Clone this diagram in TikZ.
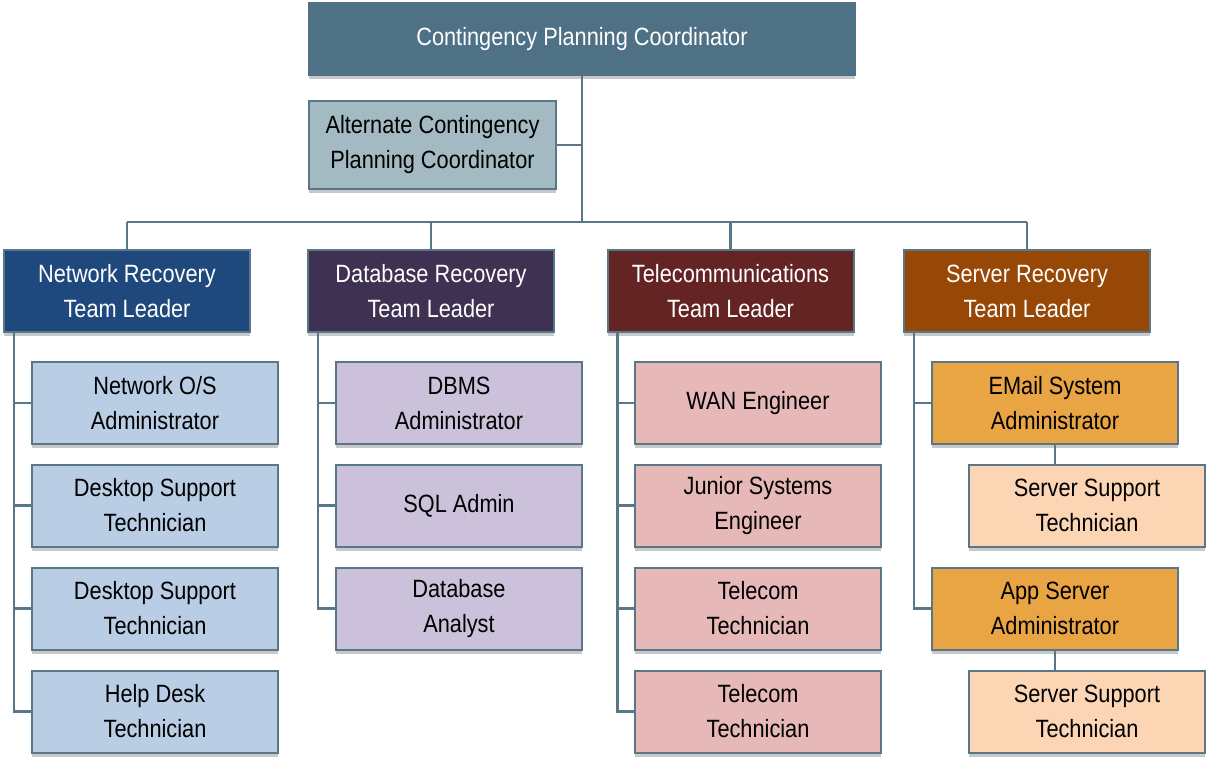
\documentclass[tikz,border=0pt]{standalone}
\usepackage{fontspec}
\setmainfont{Liberation Sans}[FakeStretch=0.87]
\usetikzlibrary{shadows}
\definecolor{topc}{HTML}{4F7186}
\definecolor{linec}{HTML}{587889}
\definecolor{altc}{HTML}{A3BAC2}
\definecolor{netL}{HTML}{1F497D}
\definecolor{dbL}{HTML}{3F3151}
\definecolor{telL}{HTML}{632423}
\definecolor{srvL}{HTML}{974706}
\definecolor{netC}{HTML}{B9CDE5}
\definecolor{dbC}{HTML}{CCC1DA}
\definecolor{telC}{HTML}{E6B9B8}
\definecolor{srvA}{HTML}{E9A444}
\definecolor{srvS}{HTML}{FCD5B5}
\definecolor{shadc}{HTML}{C8C8C8}
\begin{document}
\begin{tikzpicture}[x=1pt,y=-1pt,
  box/.style={draw=linec, line width=2pt, minimum width=246pt, minimum height=82pt,
    inner sep=0pt, align=center, text=black,
    font=\fontsize{25}{35}\selectfont,
    drop shadow={shadow xshift=0pt, shadow yshift=-4pt, fill=shadc, opacity=1}},
  leader/.style={box, text=white},
  conn/.style={draw=linec, line width=2.4pt}]
\useasboundingbox (0,0) rectangle (1209,765);
% top
\node[box, fill=topc, draw=topc, text=white, minimum width=546pt, minimum height=72pt] (top) at (582,39) {Contingency Planning Coordinator};
\node[box, fill=altc, minimum width=247pt, minimum height=88pt] (alt) at (432.5,145) {Alternate Contingency\\Planning Coordinator};
% leaders
\node[leader, fill=netL] (netl) at (127,291) {Network Recovery\\Team Leader};
\node[leader, fill=dbL] (dbl) at (431,291) {Database Recovery\\Team Leader};
\node[leader, fill=telL] (tell) at (730.5,291) {Telecommunications\\Team Leader};
\node[leader, fill=srvL] (srvl) at (1027,291) {Server Recovery\\Team Leader};
% network children
\node[box, fill=netC] (n1) at (155,403) {Network O/S\\Administrator};
\node[box, fill=netC] (n2) at (155,505.5) {Desktop Support\\Technician};
\node[box, fill=netC] (n3) at (155,608.5) {Desktop Support\\Technician};
\node[box, fill=netC] (n4) at (155,711.5) {Help Desk\\Technician};
% database children
\node[box, fill=dbC] (d1) at (459,403) {DBMS\\Administrator};
\node[box, fill=dbC] (d2) at (459,505.5) {SQL Admin};
\node[box, fill=dbC] (d3) at (459,608.5) {Database\\Analyst};
% telecom children
\node[box, fill=telC] (t1) at (758,403) {WAN Engineer};
\node[box, fill=telC] (t2) at (758,505.5) {Junior Systems\\Engineer};
\node[box, fill=telC] (t3) at (758,608.5) {Telecom\\Technician};
\node[box, fill=telC] (t4) at (758,711.5) {Telecom\\Technician};
% server children
\node[box, fill=srvA] (s1) at (1055,403) {EMail System\\Administrator};
\node[box, fill=srvS, minimum width=236pt] (s2) at (1087,505.5) {Server Support\\Technician};
\node[box, fill=srvA] (s3) at (1055,608.5) {App Server\\Administrator};
\node[box, fill=srvS, minimum width=236pt] (s4) at (1087,711.5) {Server Support\\Technician};
% connectors
\coordinate (bus) at (top.south |- 0,222);
\draw[conn] (top.south) -- (bus);
\draw[conn] (alt.east) -- (alt.east -| top.south);
\draw[conn] (netl.north |- bus) -- (srvl.north |- bus);
\foreach \l in {netl,dbl,tell,srvl} \draw[conn] (\l.north) -- (\l.north |- bus);
\foreach \c in {n1,n2,n3,n4} \draw[conn] ([xshift=11pt]netl.south west) |- (\c.west);
\foreach \c in {d1,d2,d3} \draw[conn] ([xshift=11pt]dbl.south west) |- (\c.west);
\foreach \c in {t1,t2,t3,t4} \draw[conn] ([xshift=11pt]tell.south west) |- (\c.west);
\foreach \c in {s1,s3} \draw[conn] ([xshift=11pt]srvl.south west) |- (\c.west);
\draw[conn] (s1.south) -- (s1.south |- s2.north);
\draw[conn] (s3.south) -- (s3.south |- s4.north);
\end{tikzpicture}
\end{document}
